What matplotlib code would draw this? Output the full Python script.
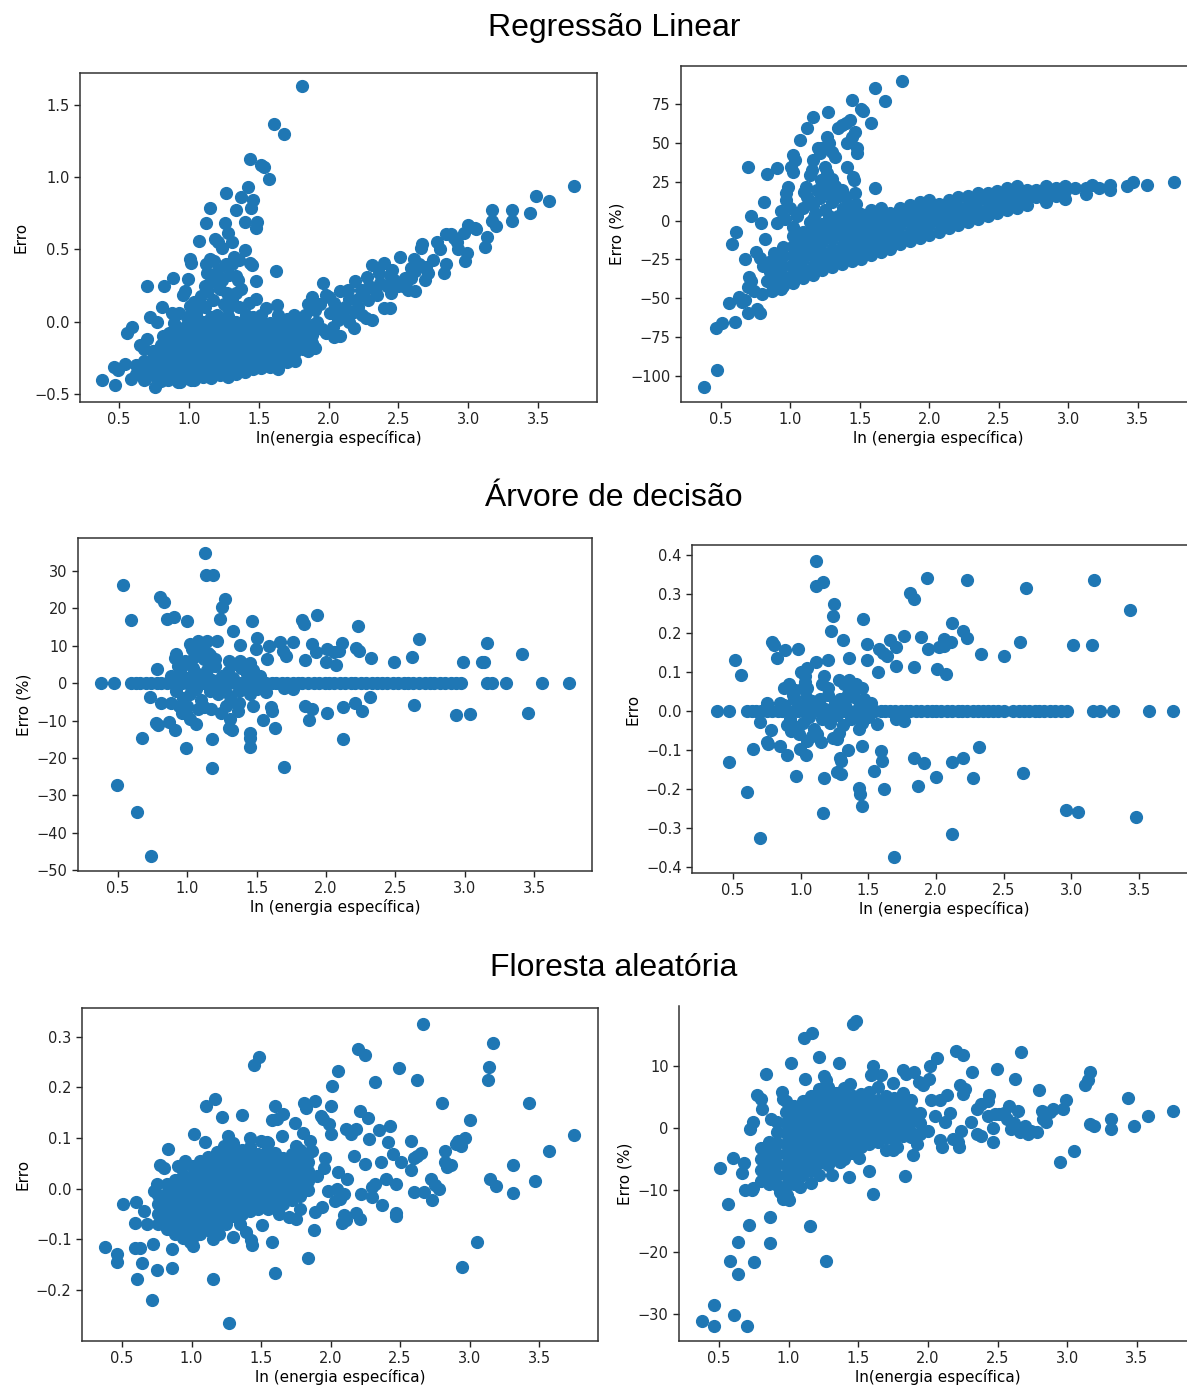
import matplotlib.pyplot as plt
import numpy as np

W, H = 1187, 1391

# ---- Regressão linear, erro absoluto ----
lr_abs_pts = [
    (1.81, 1.63), (1.61, 1.37), (1.68, 1.30), (1.44, 1.125), (1.515, 1.085), (1.535, 1.07), (1.575, 0.99),
    (1.425, 0.93), (1.265, 0.89), (1.375, 0.86), (1.46, 0.84), (1.155, 0.785), (1.34, 0.775), (1.445, 0.79),
    (1.12, 0.68), (1.26, 0.68), (1.40, 0.69), (1.49, 0.69), (1.48, 0.65), (1.28, 0.615), (1.075, 0.56),
    (1.19, 0.57), (1.21, 0.555), (1.31, 0.55), (1.24, 0.51), (1.40, 0.495), (1.32, 0.45), (1.155, 0.435),
    (1.005, 0.435), (1.015, 0.405), (1.44, 0.41), (1.45, 0.39), (1.265, 0.40), (1.625, 0.35), (1.13, 0.335),
    (0.885, 0.305), (0.995, 0.295), (1.335, 0.315), (1.24, 0.29), (1.29, 0.325), (1.35, 0.29), (1.37, 0.23),
    (1.34, 0.20), (1.27, 0.20), (1.22, 0.23), (0.70, 0.245), (0.82, 0.245), (1.48, 0.28), (0.975, 0.21),
    (0.96, 0.185), (1.115, 0.245), (1.14, 0.22), (1.48, 0.155), (1.555, 0.095), (1.63, 0.115), (0.81, 0.10),
    (1.17, 0.15), (1.115, 0.105), (1.06, 0.08), (1.36, 0.105), (1.28, 0.095), (0.88, 0.06), (0.99, 0.035),
    (0.72, 0.03), (0.77, 0.0), (0.59, -0.035), (0.56, -0.08), (0.815, -0.095), (0.895, -0.01), (0.65, -0.16),
    (0.38, -0.40), (0.465, -0.31), (0.49, -0.335), (0.545, -0.295), (0.47, -0.44), (0.585, -0.395),
    (0.76, -0.45), (0.685, -0.395), (0.85, -0.405), (0.935, -0.42), (1.015, -0.405),
    (1.05, 0.05), (1.10, 0.0), (1.20, 0.05), (1.25, 0.12), (1.16, 0.31), (1.09, 0.18), (1.04, 0.14),
    (1.21, 0.36), (1.31, 0.16), (1.41, 0.05), (1.01, 0.11), (0.93, 0.06), (1.18, 0.42), (1.31, 0.40),
    (1.36, 0.43), (1.12, 0.40), (1.19, 0.28), (1.43, 0.13), (1.52, 0.05), (0.75, -0.20), (0.70, -0.12),
    (3.76, 0.94), (3.58, 0.835), (3.485, 0.87), (3.44, 0.75), (3.31, 0.775), (3.31, 0.695), (3.17, 0.775),
    (3.17, 0.70), (3.20, 0.66), (3.135, 0.585), (3.12, 0.52), (3.055, 0.645), (3.00, 0.67), (2.97, 0.615),
    (2.99, 0.475), (2.98, 0.42), (2.92, 0.55), (2.93, 0.50), (2.88, 0.605), (2.84, 0.605), (2.78, 0.555),
    (2.67, 0.535), (2.66, 0.51), (2.75, 0.43), (2.84, 0.40), (2.83, 0.335), (2.61, 0.435), (2.59, 0.37),
    (2.62, 0.35), (2.59, 0.30), (2.62, 0.21), (2.57, 0.22), (2.69, 0.29), (2.71, 0.335), (2.51, 0.45),
    (2.40, 0.41), (2.455, 0.36), (2.44, 0.325), (2.47, 0.29), (2.50, 0.245), (2.31, 0.395), (2.36, 0.335),
    (2.37, 0.265), (2.275, 0.31), (2.29, 0.245), (2.35, 0.185), (2.40, 0.095), (2.44, 0.095), (2.19, 0.28),
    (2.23, 0.22), (2.25, 0.195), (2.21, 0.105), (2.27, 0.025), (2.31, 0.01), (2.08, 0.21), (2.14, 0.22),
    (2.15, 0.16), (2.12, 0.105), (2.18, 0.07), (2.18, -0.045), (1.96, 0.265), (1.985, 0.185), (2.04, 0.13),
    (2.01, 0.06), (2.07, 0.01), (2.03, -0.035), (2.08, -0.095), (2.04, -0.105), (1.88, 0.17), (1.85, 0.12),
    (1.90, 0.08), (1.83, 0.05), (1.92, 0.0), (1.95, -0.05), (1.88, -0.02), (1.87, -0.10), (1.90, -0.18),
    (1.85, -0.20), (1.80, 0.02), (1.78, -0.05), (1.75, 0.05), (1.70, 0.0), (2.28, 0.15), (2.33, 0.22),
    (2.15, 0.0), (2.00, 0.17), (2.10, 0.05), (2.20, 0.15), (2.45, 0.20), (2.55, 0.30), (2.65, 0.40),
    (2.70, 0.38), (2.80, 0.50), (2.90, 0.58), (3.05, 0.65), (2.53, 0.25), (2.42, 0.25),
    (1.98, -0.08), (2.06, 0.08), (2.24, 0.05), (1.94, 0.12),
]
lr_abs_core = [
    (0.62, [-0.36, -0.30]),
    (0.68, [-0.40, -0.33, -0.27, -0.19]),
    (0.74, [-0.37, -0.31, -0.25, -0.20]),
    (0.80, [-0.41, -0.34, -0.28, -0.22, -0.16]),
    (0.86, [-0.38, -0.33, -0.27, -0.21, -0.15, -0.08]),
    (0.92, [-0.42, -0.35, -0.29, -0.23, -0.17, -0.11, -0.05]),
    (0.98, [-0.39, -0.33, -0.27, -0.21, -0.15, -0.09, -0.03]),
    (1.04, [-0.40, -0.34, -0.28, -0.22, -0.16, -0.10, -0.04, 0.02]),
    (1.10, [-0.38, -0.32, -0.26, -0.20, -0.14, -0.08, -0.02]),
    (1.16, [-0.39, -0.33, -0.27, -0.21, -0.15, -0.09, -0.03, 0.03]),
    (1.22, [-0.37, -0.31, -0.25, -0.19, -0.13, -0.07, -0.01]),
    (1.28, [-0.38, -0.32, -0.26, -0.20, -0.14, -0.08, -0.02, 0.04]),
    (1.34, [-0.36, -0.30, -0.24, -0.18, -0.12, -0.06, 0.00]),
    (1.40, [-0.35, -0.29, -0.23, -0.17, -0.11, -0.05, 0.01]),
    (1.46, [-0.33, -0.27, -0.21, -0.15, -0.09, -0.03, 0.03]),
    (1.52, [-0.32, -0.26, -0.20, -0.14, -0.08, -0.02]),
    (1.58, [-0.31, -0.25, -0.19, -0.13, -0.07, -0.01]),
    (1.64, [-0.33, -0.27, -0.21, -0.15, -0.09, -0.03, 0.05]),
    (1.70, [-0.28, -0.22, -0.16, -0.10, -0.04, 0.02]),
    (1.76, [-0.27, -0.21, -0.15, -0.09, -0.03]),
    (1.82, [-0.19, -0.13, -0.07, 0.00]),
    (1.88, [-0.15, -0.09]),
]

# ---- Regressão linear, erro (%) ----
lr_pct_pts = [
    (1.80, 89.7), (1.61, 85.3), (1.68, 76.7), (1.44, 77.8), (1.505, 71.8), (1.52, 70.3), (1.58, 62.7),
    (1.27, 69.8), (1.16, 66.6), (1.43, 64.9), (1.40, 62.7), (1.37, 61.6), (1.34, 59.5), (1.465, 57.3),
    (1.44, 54.1), (1.41, 49.8), (1.48, 46.6), (1.48, 43.3), (1.12, 59.5), (1.07, 51.9), (1.26, 53.7),
    (1.22, 46.6), (1.28, 49.8), (1.30, 44.4), (1.32, 41.2), (1.195, 46.6), (1.21, 43.3), (1.02, 42.2),
    (1.03, 39.0), (1.005, 34.7), (1.02, 31.5), (1.405, 34.7), (1.16, 39.0), (1.155, 32.5), (1.25, 34.7),
    (1.26, 30.4), (1.22, 26.1), (1.14, 29.3), (1.115, 21.8), (1.10, 18.5), (0.695, 34.7), (0.83, 29.7),
    (0.90, 33.6), (1.45, 28.2), (1.46, 26.1), (1.61, 20.7), (1.465, 17.9), (1.47, 11.0), (0.98, 21.8),
    (0.965, 17.5), (0.97, 13.1), (0.81, 12.1), (1.12, 15.0), (1.16, 10.0), (1.21, 14.5), (1.27, 18.0),
    (1.32, 22.0), (1.37, 20.0), (1.40, 15.0), (1.38, 8.0), (1.30, 12.0), (1.25, 7.0), (1.18, 4.0),
    (1.09, 8.0), (1.05, 3.0), (0.93, 6.0), (0.96, 1.0), (0.90, -1.5), (1.00, 8.0), (1.34, 3.0), (1.43, 2.0),
    (1.24, 24.0), (1.30, 27.0), (1.35, 16.0), (1.19, 20.0), (1.28, 3.0), (1.14, -1.0), (1.42, 9.0),
    (0.715, 2.8), (0.785, -1.3), (0.61, -7.3), (0.58, -14.9), (0.82, -12.1), (0.67, -25.0), (0.56, -53.0),
    (0.63, -49.0), (0.65, -52.6), (0.67, -51.0), (0.465, -68.8), (0.51, -66.0), (0.60, -65.0), (0.38, -107.0),
    (0.47, -96.0), (0.695, -59.5), (0.78, -59.5), (0.76, -57.0), (0.70, -36.0), (0.695, -43.0), (0.735, -45.0),
    (0.715, -38.6), (0.795, -47.0), (0.87, -45.0), (0.93, -44.0), (0.78, -24.0), (0.75, -20.0), (0.80, -29.0),
    (0.85, -33.0), (0.83, -39.0), (0.86, -26.0),
]
lr_pct_core = [
    (0.88, [-40, -33, -27, -21]),
    (0.95, [-42, -36, -29, -23, -17]),
    (1.02, [-40, -34, -28, -22, -16, -10, -4]),
    (1.09, [-37, -31, -25, -19, -13, -7]),
    (1.16, [-35, -29, -23, -17, -11, -5, 1]),
    (1.23, [-32, -26, -20, -14, -8, -2]),
    (1.30, [-30, -24, -18, -12, -6, 0]),
    (1.37, [-28, -22, -16, -10, -4, 2]),
    (1.44, [-26, -20, -14, -8, -2, 3]),
    (1.51, [-25, -19, -13, -7, -1, 4]),
    (1.58, [-22, -16, -10, -4, 2, 7]),
    (1.65, [-20, -14, -8, -2, 3, 8]),
    (1.72, [-18, -12, -6, 0, 5]),
    (1.79, [-15, -9, -3, 3, 8]),
    (1.86, [-13, -7, -1, 5, 10]),
    (1.93, [-11, -5, 1, 7, 12]),
    (2.00, [-9, -3, 3, 9, 13]),
    (2.07, [-7, -1, 5, 11]),
    (2.14, [-5, 1, 7, 13]),
    (2.21, [-3, 3, 9, 15]),
    (2.28, [-1, 5, 11, 16]),
    (2.35, [1, 7, 13, 18]),
    (2.42, [3, 9, 14, 18]),
    (2.49, [5, 11, 16, 19]),
    (2.56, [7, 12, 17, 21]),
    (2.63, [8, 14, 19, 22]),
    (2.70, [10, 15, 20]),
    (2.77, [15, 20]),
    (2.84, [12, 17, 22]),
    (2.91, [16, 21]),
    (2.98, [14, 19, 22]),
    (3.05, [21]),
    (3.13, [17, 21]),
    (3.17, [23]),
    (3.22, [21]),
    (3.30, [20, 23]),
    (3.42, [22]),
    (3.47, [25]),
    (3.57, [23]),
    (3.76, [25]),
]

# ---- Árvore de decisão, erro (%) ----
dt_pct_zero_x = [
    0.38, 0.47, 0.59, 0.63, 0.66, 0.70, 0.74, 0.78, 0.81, 0.85, 0.89, 0.93, 0.96, 1.00, 1.04, 1.08,
    1.11, 1.15, 1.19, 1.23, 1.26, 1.30, 1.34, 1.38, 1.42, 1.45, 1.49, 1.53, 1.57, 1.61, 1.64, 1.68,
    1.72, 1.76, 1.80, 1.83, 1.87, 1.91, 1.95, 1.99, 2.02, 2.06, 2.10, 2.14, 2.18, 2.21, 2.25, 2.29,
    2.33, 2.37, 2.40, 2.44, 2.48, 2.52, 2.56, 2.59, 2.63, 2.67, 2.71, 2.75, 2.78, 2.82, 2.86, 2.90,
    2.94, 2.97, 3.16, 3.20, 3.30, 3.56, 3.75,
]
dt_pct_pts = [
    (1.127, 34.9), (1.135, 28.8), (1.187, 28.8), (0.535, 26.3), (0.80, 23.0), (0.833, 21.7), (1.27, 22.4),
    (1.25, 20.3), (1.236, 17.2), (0.595, 16.9), (0.855, 17.2), (0.904, 17.8), (0.996, 16.5), (1.468, 16.5),
    (1.83, 17.0), (1.84, 15.7), (1.934, 18.1), (2.23, 15.2), (1.326, 14.0), (2.67, 11.8), (1.50, 12.0),
    (1.495, 9.1), (1.378, 10.3), (1.59, 10.0), (1.67, 10.9), (1.69, 8.7), (1.71, 7.3), (1.76, 11.1),
    (1.896, 10.5), (1.93, 8.4), (2.117, 10.7), (2.06, 8.2), (2.01, 9.1), (2.09, 8.7), (2.0, 5.6), (2.07, 4.8),
    (2.216, 9.4), (2.24, 8.7), (2.327, 6.6), (2.49, 5.7), (2.62, 6.9), (2.99, 5.7), (3.126, 5.7), (3.14, 5.7),
    (3.16, 10.7), (3.41, 7.8), (1.577, 6.4), (1.85, 6.2), (1.018, 10.5), (1.037, 9.4), (1.073, 11.4),
    (1.14, 11.4), (1.214, 11.4), (0.92, 7.8), (0.91, 6.6), (0.96, 4.7), (1.01, 5.6), (0.778, 3.8),
    (1.16, 7.5), (1.18, 5.5), (1.12, 6.5), (1.30, 6.0), (1.35, 5.0), (1.40, 5.2), (1.44, 4.0), (1.10, 8.5),
    (0.73, -3.8), (0.81, -5.4), (0.88, -5.2), (0.936, -6.1), (0.773, -10.6), (0.786, -11.3), (0.87, -10.3),
    (0.91, -12.4), (0.672, -14.6), (0.99, -17.3), (1.06, -10.8), (1.02, -9.7), (0.96, -7.9), (1.174, -22.6),
    (1.18, -14.9), (1.30, -11.9), (1.32, -12.5), (1.31, -9.7), (1.305, -5.0), (1.37, -5.2), (1.367, -7.4),
    (1.168, -7.0), (1.45, -13.4), (1.45, -14.6), (1.455, -17.0), (1.47, -6.1), (1.544, -9.8), (1.604, -6.3),
    (1.613, -7.4), (1.632, -12.1), (1.695, -22.4), (1.564, -2.3), (1.70, -1.2), (1.76, -1.6), (1.85, -6.1),
    (1.88, -9.8), (1.90, -7.0), (2.01, -8.1), (2.12, -6.3), (2.12, -14.9), (2.21, -5.2), (2.26, -7.4),
    (2.32, -3.8), (2.635, -5.8), (2.94, -8.6), (3.04, -8.3), (3.46, -7.9), (0.49, -27.1), (0.636, -34.3),
    (0.737, -46.2),
    (0.88, 2.0), (0.92, -2.0), (0.95, 3.0), (0.97, -4.0), (1.00, 1.5), (1.02, -3.0), (1.04, 4.0),
    (1.06, -1.5), (1.08, 2.5), (1.10, -4.5), (1.12, 1.0), (1.14, 3.5), (1.16, -2.0), (1.18, 0.8),
    (1.20, 4.5), (1.22, -3.0), (1.25, 2.0), (1.27, -1.0), (1.29, 3.0), (1.31, -3.5), (1.33, 1.5),
    (1.35, 5.0), (1.37, -2.0), (1.39, 4.0), (1.41, -1.0), (1.43, 2.5), (1.45, -3.0), (1.47, 3.5),
    (1.49, 1.0), (1.00, -6.0), (0.98, 6.0), (1.05, 7.0), (1.12, -6.5), (1.20, 6.5), (1.28, -6.0),
    (1.38, 6.0), (1.50, -1.5), (1.52, 2.0), (0.93, 4.5), (1.08, -7.0), (1.15, 8.0), (1.03, 9.0),
    (1.24, -8.0), (0.99, -8.0), (1.45, 5.5),
]

# ---- Árvore de decisão, erro absoluto ----
dt_abs_zero_x = [
    0.38, 0.47, 0.60, 0.64, 0.67, 0.71, 0.75, 0.79, 0.83, 0.86, 0.90, 0.94, 0.98, 1.02, 1.05, 1.09,
    1.13, 1.17, 1.21, 1.24, 1.28, 1.32, 1.36, 1.40, 1.43, 1.47, 1.51, 1.55, 1.59, 1.62, 1.66, 1.70,
    1.74, 1.78, 1.81, 1.85, 1.89, 1.93, 1.97, 2.00, 2.04, 2.08, 2.12, 2.16, 2.19, 2.23, 2.27, 2.31,
    2.35, 2.38, 2.42, 2.46, 2.50, 2.57, 2.61, 2.65, 2.69, 2.73, 2.76, 2.80, 2.84, 2.88, 2.92, 2.97,
    3.16, 3.21, 3.31, 3.57, 3.75,
]
dt_abs_pts = [
    (1.115, 0.385), (1.115, 0.321), (1.162, 0.33), (1.936, 0.342), (2.226, 0.336), (2.665, 0.315),
    (3.166, 0.336), (3.43, 0.259), (1.81, 0.302), (1.84, 0.287), (1.246, 0.274), (1.238, 0.243),
    (1.46, 0.236), (2.12, 0.225), (1.227, 0.206), (2.20, 0.206), (2.23, 0.187), (1.315, 0.182),
    (0.787, 0.176), (0.806, 0.17), (0.98, 0.159), (0.884, 0.156), (1.49, 0.173), (1.58, 0.159),
    (1.61, 0.148), (1.66, 0.182), (1.705, 0.163), (1.64, 0.142), (1.76, 0.193), (1.89, 0.189),
    (1.94, 0.159), (2.02, 0.163), (2.06, 0.184), (2.11, 0.178), (2.06, 0.167), (2.33, 0.146), (2.50, 0.142),
    (2.62, 0.178), (3.01, 0.169), (3.15, 0.169), (0.517, 0.132), (0.559, 0.092), (0.828, 0.136),
    (1.115, 0.127), (1.20, 0.132), (1.36, 0.136), (1.49, 0.132), (1.57, 0.10), (1.705, 0.116),
    (1.836, 0.112), (2.006, 0.108), (2.07, 0.095),
    (1.00, 0.10), (1.03, 0.09), (1.05, 0.11), (1.17, 0.09), (1.16, 0.07), (1.28, 0.08), (1.32, 0.07),
    (1.36, 0.08), (1.41, 0.07), (1.45, 0.06), (0.88, 0.06), (0.91, 0.07), (0.94, 0.04), (1.02, 0.06),
    (0.75, 0.02), (0.85, 0.02),
    (0.47, -0.13), (0.606, -0.207), (0.70, -0.326), (0.65, -0.097), (0.753, -0.08), (0.76, -0.085),
    (0.78, -0.048), (0.70, -0.027), (0.848, -0.089), (0.898, -0.112), (0.962, -0.166), (0.995, -0.097),
    (1.037, -0.112), (1.05, -0.076), (1.148, -0.08), (1.162, -0.262), (1.17, -0.172), (1.268, -0.155),
    (1.30, -0.161), (1.27, -0.072), (1.30, -0.127), (1.29, -0.12), (1.35, -0.10), (1.43, -0.196), (1.44, -0.213),
    (1.45, -0.243), (1.45, -0.089), (1.54, -0.153), (1.56, -0.033), (1.594, -0.103), (1.60, -0.127),
    (1.613, -0.20), (1.69, -0.373), (1.705, -0.02), (1.76, -0.026), (1.84, -0.121), (1.91, -0.134),
    (1.87, -0.193), (2.003, -0.17), (2.12, -0.13), (2.12, -0.315), (2.20, -0.12), (2.27, -0.172),
    (2.32, -0.093), (2.64, -0.159), (2.96, -0.254), (3.05, -0.258), (3.48, -0.272),
    (0.88, 0.015), (0.92, -0.02), (0.95, 0.03), (0.97, -0.04), (1.00, 0.012), (1.02, -0.03), (1.04, 0.035),
    (1.06, -0.015), (1.08, 0.025), (1.10, -0.045), (1.12, 0.008), (1.14, 0.03), (1.16, -0.02), (1.18, 0.006),
    (1.20, 0.04), (1.22, -0.03), (1.25, 0.02), (1.27, -0.01), (1.29, 0.03), (1.31, -0.035), (1.33, 0.015),
    (1.35, 0.045), (1.37, -0.02), (1.39, 0.035), (1.41, -0.01), (1.43, 0.025), (1.45, -0.03), (1.47, 0.03),
    (1.49, 0.01), (0.99, -0.06), (0.96, 0.055), (1.05, 0.06), (1.12, -0.06), (1.20, 0.06), (1.28, -0.055),
    (1.38, 0.05), (1.50, -0.015), (1.52, 0.02), (0.93, -0.05), (1.08, -0.065), (1.03, 0.075), (1.24, -0.07),
    (0.90, -0.035), (1.43, -0.045),
]

# ---- Floresta aleatória, erro absoluto ----
rf_abs_pts = [
    (2.666, 0.325), (3.17, 0.287), (2.20, 0.275), (2.25, 0.265), (1.485, 0.261), (1.45, 0.244), (2.49, 0.238),
    (3.14, 0.241), (3.13, 0.214), (2.055, 0.233), (2.01, 0.202), (2.32, 0.21), (2.625, 0.214), (1.166, 0.178),
    (1.106, 0.163), (1.60, 0.164), (1.807, 0.17), (1.82, 0.16), (1.89, 0.173), (2.005, 0.163), (2.80, 0.17),
    (3.43, 0.17), (1.216, 0.141), (1.36, 0.145), (1.66, 0.148), (1.58, 0.135), (1.615, 0.137), (1.747, 0.13),
    (1.93, 0.143), (1.945, 0.137), (2.21, 0.153), (2.27, 0.14), (3.00, 0.136), (1.99, 0.127), (2.11, 0.117),
    (2.15, 0.108), (2.18, 0.117), (2.35, 0.115), (2.43, 0.124), (2.005, 0.108), (3.75, 0.106), (1.017, 0.109),
    (2.97, 0.10), (2.92, 0.095), (2.90, 0.088), (2.94, 0.085), (2.58, 0.095), (2.41, 0.093), (2.45, 0.068),
    (2.28, 0.098), (3.575, 0.074), (2.82, 0.075), (2.65, 0.07), (2.62, 0.065), (2.60, 0.06), (2.51, 0.052),
    (2.82, 0.052), (2.84, 0.042), (2.87, 0.046), (3.31, 0.046), (2.58, 0.036), (2.17, 0.065), (2.36, 0.052),
    (2.25, 0.049), (2.055, 0.033), (3.15, 0.02), (3.19, 0.005), (3.47, 0.016), (2.40, 0.02), (2.47, 0.01),
    (2.32, 0.01), (2.30, 0.003), (2.72, 0.02), (2.75, 0.007), (2.78, 0.0), (2.67, -0.007), (2.60, -0.007),
    (2.73, -0.023), (3.31, -0.008), (2.22, -0.01), (2.30, -0.016), (2.37, -0.033), (2.10, -0.01), (2.07, -0.02),
    (2.03, -0.025), (2.12, 0.02), (2.47, -0.049), (2.47, -0.054), (2.18, -0.049), (2.21, -0.059), (2.10, -0.052),
    (2.11, -0.062), (2.08, -0.068), (1.885, -0.046), (1.88, -0.081), (1.94, -0.036), (3.05, -0.106),
    (2.945, -0.154), (1.835, -0.137), (1.60, -0.166), (1.58, -0.106), (1.43, -0.101), (1.436, -0.111),
    (1.505, -0.072), (1.39, -0.085), (1.30, -0.096), (1.155, -0.10), (1.166, -0.075), (1.152, -0.178),
    (1.27, -0.266), (0.86, -0.12), (0.86, -0.157), (0.75, -0.16), (0.715, -0.22), (0.61, -0.179),
    (0.632, -0.117), (0.643, -0.147), (0.59, -0.117), (0.59, -0.068), (0.467, -0.13), (0.467, -0.145),
    (0.38, -0.116), (0.508, -0.031), (0.60, -0.026), (0.72, -0.109), (0.68, -0.07), (0.66, -0.045),
    (1.01, -0.114), (0.99, -0.105), (0.97, -0.095), (0.83, 0.078), (0.77, 0.046), (0.75, 0.01), (0.73, -0.005),
    (1.10, 0.093), (1.26, 0.105), (1.23, 0.085), (1.42, 0.10), (1.50, 0.095), (1.55, 0.09), (1.65, 0.105),
    (1.75, 0.085), (1.80, 0.11), (1.85, 0.095), (1.87, 0.075), (1.95, 0.04), (1.90, 0.025), (1.98, -0.005),
    (1.96, 0.06), (2.05, 0.0), (1.70, -0.055), (1.75, -0.06), (1.78, -0.04), (1.63, -0.05), (1.55, -0.04),
    (1.20, -0.09), (1.25, -0.07), (1.35, -0.07), (0.95, 0.055), (0.90, 0.045), (0.80, 0.04),
]
rf_abs_core = [
    (0.76, [-0.070, -0.050, -0.030, -0.012]),
    (0.82, [-0.080, -0.062, -0.044, -0.026, -0.008, 0.010]),
    (0.88, [-0.090, -0.072, -0.054, -0.036, -0.018, 0.000, 0.018]),
    (0.94, [-0.098, -0.080, -0.062, -0.044, -0.026, -0.008, 0.010, 0.028, 0.046]),
    (1.00, [-0.100, -0.082, -0.064, -0.046, -0.028, -0.010, 0.008, 0.026, 0.044]),
    (1.06, [-0.090, -0.072, -0.054, -0.036, -0.018, 0.000, 0.018, 0.036, 0.054]),
    (1.12, [-0.082, -0.064, -0.046, -0.028, -0.010, 0.008, 0.026, 0.044, 0.062]),
    (1.18, [-0.072, -0.054, -0.036, -0.018, 0.000, 0.018, 0.036, 0.054, 0.072]),
    (1.24, [-0.062, -0.044, -0.026, -0.008, 0.010, 0.028, 0.046, 0.064, 0.082]),
    (1.30, [-0.054, -0.036, -0.018, 0.000, 0.018, 0.036, 0.054, 0.072, 0.090]),
    (1.36, [-0.050, -0.032, -0.014, 0.004, 0.022, 0.040, 0.058, 0.076]),
    (1.42, [-0.044, -0.026, -0.008, 0.010, 0.028, 0.046, 0.064, 0.082]),
    (1.48, [-0.040, -0.022, -0.004, 0.014, 0.032, 0.050, 0.068]),
    (1.54, [-0.034, -0.016, 0.002, 0.020, 0.038, 0.056, 0.074, 0.092]),
    (1.60, [-0.038, -0.020, -0.002, 0.016, 0.034, 0.052, 0.070]),
    (1.66, [-0.030, -0.012, 0.006, 0.024, 0.042, 0.060]),
    (1.72, [-0.022, -0.004, 0.014, 0.032, 0.050, 0.068]),
    (1.78, [-0.014, 0.004, 0.022, 0.040, 0.058, 0.076]),
    (1.84, [-0.002, 0.016, 0.034, 0.052, 0.070]),
]

# ---- Floresta aleatória, erro (%) ----
rf_pct_pts = [
    (1.46, 16.8), (1.485, 17.2), (1.107, 14.5), (1.166, 15.3), (2.67, 12.2), (2.205, 12.4), (2.254, 11.8),
    (1.22, 11.5), (1.017, 10.5), (1.365, 10.5), (2.064, 11.3), (2.015, 10.1), (1.607, 10.1), (1.588, 8.5),
    (2.493, 9.5), (0.835, 8.8), (1.82, 9.3), (1.84, 8.7), (1.90, 9.0), (2.32, 9.0), (3.165, 9.0), (3.15, 7.7),
    (3.13, 6.9), (2.627, 8.0), (1.117, 8.0), (1.253, 8.4), (1.27, 7.7), (1.66, 8.5), (1.642, 6.6), (1.75, 7.3),
    (1.936, 7.4), (1.963, 6.9), (2.23, 7.0), (2.27, 6.3), (2.01, 8.0), (2.80, 6.1), (1.444, 7.1), (3.437, 4.8),
    (2.994, 4.6), (2.967, 3.1), (2.44, 5.3), (2.43, 4.3), (2.51, 2.3), (2.58, 3.6), (2.65, 2.7), (2.82, 2.8),
    (2.88, 2.6), (2.90, 3.1), (3.758, 2.8), (3.58, 2.0), (3.315, 1.4), (3.315, -0.2), (3.165, 0.7), (3.19, 0.3),
    (3.478, 0.3), (3.05, -3.7), (2.95, -5.5), (2.70, 0.4), (2.74, -0.4), (2.72, -0.9), (2.60, -0.1), (2.66, -0.6),
    (2.47, 0.0), (2.47, -2.3), (2.38, -1.3), (2.35, -0.9), (2.235, -0.4), (2.213, -2.3), (2.18, -1.7), (2.10, -3.1),
    (2.09, -2.0), (2.22, -3.1), (2.31, 1.0), (2.35, 3.1), (2.38, 3.9), (2.43, 2.0), (2.09, 4.5), (2.14, 5.3),
    (2.16, 2.5), (2.12, 1.0), (2.05, 2.0), (2.00, -0.5), (2.02, 4.5), (2.25, 5.5), (2.57, 1.5), (2.62, 0.8),
    (2.83, 1.5), (2.85, 1.0), (2.78, -0.6), (2.48, 2.2), (2.55, 2.5),
    (1.895, -4.4), (1.838, -7.7), (1.607, -10.7), (1.58, -6.9), (1.506, -4.9), (1.272, -21.4), (1.153, -15.8),
    (1.161, -8.8), (1.31, -7.5), (1.43, -7.9), (1.22, -7.6), (0.867, -14.4), (0.867, -18.6), (0.718, -15.7),
    (0.568, -12.3), (0.51, -6.4), (0.60, -4.8), (0.636, -18.3), (0.576, -21.4), (0.64, -23.6), (0.753, -21.6),
    (0.467, -28.6), (0.38, -31.1), (0.467, -31.9), (0.609, -30.1), (0.704, -31.9), (0.69, -10.0), (0.74, -10.0),
    (0.745, -9.6), (0.663, -7.2), (0.677, -5.7), (0.72, -0.1), (0.745, 1.0), (0.77, 5.3), (0.80, 4.7), (0.81, 3.1),
    (0.873, 1.5), (0.95, 5.8), (0.962, 4.7), (0.962, -11.4), (0.99, -10.8), (1.00, -11.6), (0.935, -10.3),
    (1.75, -3.5), (1.70, -3.5), (1.78, -3.0), (1.92, -2.5), (1.88, -1.5), (1.37, -5.5), (1.28, -6.0), (1.18, -5.5),
    (1.40, -5.0), (1.45, -4.0), (1.08, -9.5), (1.04, -9.0),
]
rf_pct_core = [
    (0.80, [-8.5, -6.8, -5.0, -3.2]),
    (0.86, [-9.0, -7.3, -5.6, -3.9, -2.2]),
    (0.92, [-9.2, -7.5, -5.8, -4.1, -2.4, -0.7, 1.0]),
    (0.98, [-9.3, -7.6, -5.9, -4.2, -2.5, -0.8, 0.9, 2.6, 4.3]),
    (1.04, [-8.4, -6.7, -5.0, -3.3, -1.6, 0.1, 1.8, 3.5]),
    (1.10, [-7.6, -5.9, -4.2, -2.5, -0.8, 0.9, 2.6, 4.3]),
    (1.16, [-6.8, -5.1, -3.4, -1.7, 0.0, 1.7, 3.4, 5.1]),
    (1.22, [-5.6, -3.9, -2.2, -0.5, 1.2, 2.9, 4.6, 6.3]),
    (1.28, [-5.2, -3.5, -1.8, -0.1, 1.6, 3.3, 5.0, 6.7]),
    (1.34, [-4.6, -2.9, -1.2, 0.5, 2.2, 3.9, 5.6]),
    (1.40, [-3.8, -2.1, -0.4, 1.3, 3.0, 4.7, 6.4]),
    (1.46, [-3.4, -1.7, 0.0, 1.7, 3.4, 5.1]),
    (1.52, [-3.0, -1.3, 0.4, 2.1, 3.8, 5.5]),
    (1.58, [-2.6, -0.9, 0.8, 2.5, 4.2, 5.9]),
    (1.64, [-2.2, -0.5, 1.2, 2.9, 4.6]),
    (1.70, [-1.6, 0.1, 1.8, 3.5, 5.2]),
    (1.76, [-1.9, -0.2, 1.5, 3.2, 4.9]),
    (1.82, [-1.2, 0.5, 2.2, 3.9, 5.6]),
    (1.88, [-0.6, 1.1, 2.8, 4.5]),
    (1.94, [-0.9, 0.8, 2.5]),
]

section_titles = ["Regressão Linear", "Árvore de decisão", "Floresta aleatória"]


def unpack(pts, cols=(), zero_x=()):
    xs = [p[0] for p in pts]
    ys = [p[1] for p in pts]
    for cx, cys in cols:
        xs += [cx] * len(cys)
        ys += list(cys)
    xs += list(zero_x)
    ys += [0.0] * len(zero_x)
    return xs, ys


def panel(fig, box, xs, ys, xlim, ylim, yticks, xlabel, ylabel, cut_right=True, cut_top=False):
    L, T, R, B = box
    ax = fig.add_axes([L / W, 1 - B / H, (R - L) / W, (B - T) / H])
    ax.scatter(xs, ys, s=72, color='#1f77b4', zorder=3)
    ax.set_xlim(*xlim)
    ax.set_ylim(*ylim)
    ax.set_xticks([0.5, 1.0, 1.5, 2.0, 2.5, 3.0, 3.5])
    ax.set_yticks(yticks)
    ax.set_xlabel(xlabel, fontsize=11, labelpad=2)
    ax.set_ylabel(ylabel, fontsize=11)
    ax.tick_params(labelsize=10.5, width=1.0, length=4, colors='#222222')
    for sp in ax.spines.values():
        sp.set_linewidth(1.1)
        sp.set_color('#333333')
    if cut_right:
        ax.spines['right'].set_visible(False)
    if cut_top:
        ax.spines['top'].set_visible(False)
    return ax


fig = plt.figure(figsize=(W / 100, H / 100), dpi=100)

x, y = unpack(lr_abs_pts, lr_abs_core)
panel(fig, (80, 73, 597, 402), x, y, (0.221, 3.922), (-0.555, 1.721),
      [-0.5, 0.0, 0.5, 1.0, 1.5], "ln(energia específica)", "Erro", cut_right=False)

x, y = unpack(lr_pct_pts, lr_pct_core)
panel(fig, (681, 66, 1196, 402), x, y, (0.212, 3.92), (-116.7, 99.5),
      [-100, -75, -50, -25, 0, 25, 50, 75], "ln (energia específica)", "Erro (%)")

x, y = unpack(dt_pct_pts, zero_x=dt_pct_zero_x)
panel(fig, (78, 538, 592, 871), x, y, (0.211, 3.918), (-50.2, 38.8),
      [-50, -40, -30, -20, -10, 0, 10, 20, 30], "ln (energia específica)", "Erro (%)", cut_right=False)

x, y = unpack(dt_abs_pts, zero_x=dt_abs_zero_x)
panel(fig, (692, 545, 1196, 873), x, y, (0.197, 3.92), (-0.415, 0.4256),
      [-0.4, -0.3, -0.2, -0.1, 0.0, 0.1, 0.2, 0.3, 0.4], "ln (energia específica)", "Erro")

x, y = unpack(rf_abs_pts, rf_abs_core)
panel(fig, (82, 1008, 598, 1341), x, y, (0.212, 3.924), (-0.301, 0.357),
      [-0.2, -0.1, 0.0, 0.1, 0.2, 0.3], "ln (energia específica)", "Erro", cut_right=False)

x, y = unpack(rf_pct_pts, rf_pct_core)
panel(fig, (679, 1006, 1196, 1341), x, y, (0.213, 3.925), (-34.35, 19.7),
      [-30, -20, -10, 0, 10], "ln(energia específica)", "Erro (%)", cut_top=True)

for title, ty in zip(section_titles, [28, 498, 968]):
    fig.text(614 / W, 1 - ty / H, title, ha='center', va='center',
             fontsize=23, family='Liberation Sans')

fig.savefig('out.png', dpi=100)
